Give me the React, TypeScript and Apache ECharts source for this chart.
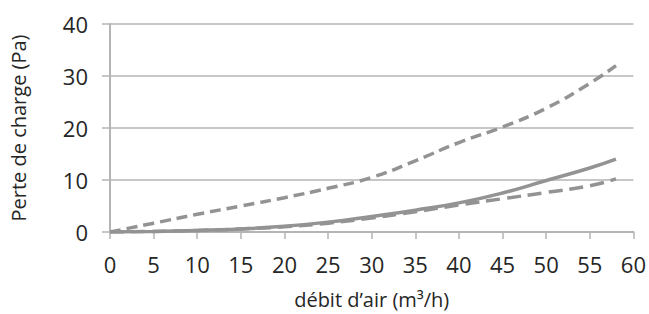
import React, { useEffect, useRef } from "react";
import * as echarts from "echarts";

const xValues = [0, 5, 10, 15, 20, 25, 30, 35, 40, 45, 50, 55, 58];
const upperDashed = [0, 1.7, 3.4, 5.0, 6.6, 8.4, 10.5, 13.7, 17.2, 20.2, 23.8, 28.6, 32.0];
const solidLine = [0, 0.1, 0.3, 0.6, 1.1, 1.9, 3.0, 4.2, 5.6, 7.5, 9.9, 12.3, 14.0];
const lowerDashed = [0, 0.1, 0.3, 0.6, 1.0, 1.7, 2.7, 3.9, 5.2, 6.4, 7.6, 8.9, 10.2];

const xAxisTitle = "débit d’air (m³/h)";
const yAxisTitle = "Perte de charge (Pa)";

const LINE = "#939393";
const GRID = "#b4b4b4";
const TEXT = "#262626";
const FONT = "Open Sans";

const pairs = (ys: number[]) => xValues.map((x, i) => [x, ys[i]]);

export default function App() {
  const ref = useRef<HTMLDivElement>(null);
  useEffect(() => {
    if (!ref.current) return;
    const chart = echarts.init(ref.current, null, { renderer: "svg" });
    chart.setOption({
      animation: false,
      backgroundColor: "#ffffff",
      grid: { left: 105, right: 15, top: 24, bottom: 73, containLabel: false },
      xAxis: {
        type: "value",
        min: 0,
        max: 60,
        interval: 5,
        name: xAxisTitle,
        nameLocation: "middle",
        nameGap: 57,
        nameTextStyle: { color: TEXT, fontSize: 20, fontFamily: FONT },
        axisLine: { show: true, lineStyle: { color: GRID, width: 2 } },
        axisTick: { show: true, length: 7, lineStyle: { color: GRID, width: 1.5 } },
        axisLabel: { color: TEXT, fontSize: 22, fontFamily: FONT, margin: 21 },
        splitLine: { show: false },
      },
      yAxis: {
        type: "value",
        min: 0,
        max: 40,
        interval: 10,
        name: yAxisTitle,
        nameLocation: "middle",
        nameGap: 82,
        nameTextStyle: { color: TEXT, fontSize: 20, fontFamily: FONT },
        axisLine: { show: true, lineStyle: { color: GRID, width: 2 } },
        axisTick: { show: true, length: 8, lineStyle: { color: GRID, width: 1.5 } },
        axisLabel: { color: TEXT, fontSize: 22, fontFamily: FONT, margin: 22 },
        splitLine: { show: true, lineStyle: { color: GRID, width: 1.5 } },
      },
      series: [
        {
          type: "line",
          data: pairs(upperDashed),
          smooth: true,
          symbol: "none",
          lineStyle: { color: LINE, width: 3.5, type: [11, 6] },
        },
        {
          type: "line",
          data: pairs(lowerDashed),
          smooth: true,
          symbol: "none",
          lineStyle: { color: LINE, width: 3.5, type: [14, 7] },
        },
        {
          type: "line",
          data: pairs(solidLine),
          smooth: true,
          symbol: "none",
          lineStyle: { color: LINE, width: 3.5 },
        },
      ],
    });
    return () => chart.dispose();
  }, []);
  return <div ref={ref} style={{ width: 649, height: 314, position: "absolute", left: 0, top: 0 }} />;
}
